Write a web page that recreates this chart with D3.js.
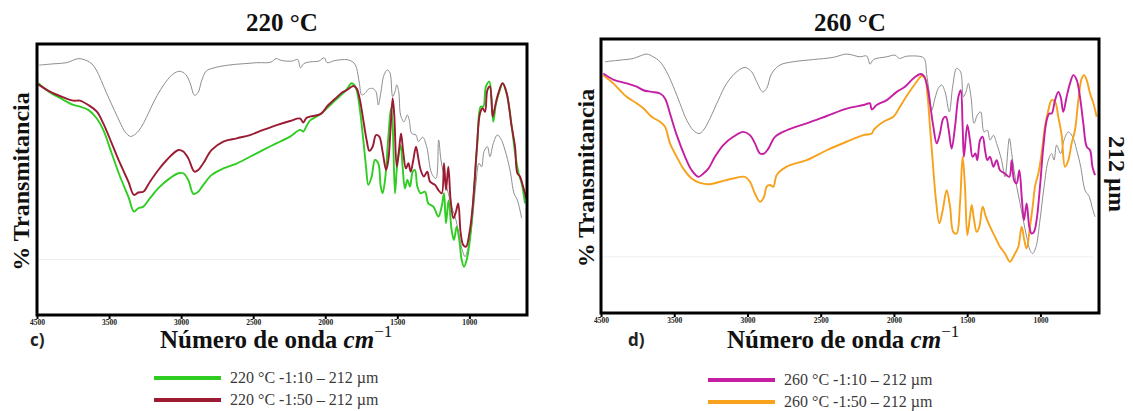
<!DOCTYPE html>
<html>
<head>
<meta charset="utf-8">
<script src="https://cdn.jsdelivr.net/npm/d3@7/dist/d3.min.js"></script>
<style>
  body { margin: 0; background: #fff; }
  svg { display: block; }
</style>
</head>
<body>
<svg id="chart" width="1133" height="411"></svg>
<script>
// DATA ////////////////////////////////////////////////////////////////////////
// [wavenumber cm-1, transmittance (arbitrary 0-100, no y ticks in the figure)]

// axis ticks (the first tick is labelled 4500 in the original figure)
const tickValues = [4000, 3500, 3000, 2500, 2000, 1500, 1000];
const tickLabels = ["4500", "3500", "3000", "2500", "2000", "1500", "1000"];

const grey220 = [
  [3985,92.2],[3882,92.7],[3795,93.1],[3709,94.6],[3635,93.3],[3605,91.8],[3573,88.8],[3536,84.2],
  [3499,79.7],[3462,75.4],[3425,71.2],[3388,67.5],[3351,65.9],[3314,66.9],[3277,69.3],[3240,73.0],
  [3191,78.5],[3141,83.3],[3092,87.0],[3043,89.4],[3006,89.9],[2969,88.8],[2939,85.8],[2907,81.1],
  [2882,82.1],[2858,86.4],[2826,90.0],[2771,91.2],[2673,92.2],[2574,92.7],[2475,93.1],[2377,93.3],
  [2340,94.6],[2303,93.9],[2229,93.7],[2192,94.3],[2172,91.2],[2150,92.7],[2105,93.4],[2044,93.7],
  [2007,94.9],[1987,93.1],[1933,93.9],[1846,94.2],[1809,93.4],[1794,92.5],[1782,91.0],[1763,85.5],
  [1747,81.2],[1724,81.8],[1701,83.3],[1671,83.6],[1648,82.4],[1632,77.5],[1615,81.8],[1592,88.6],
  [1569,90.4],[1551,89.4],[1532,80.6],[1516,82.4],[1504,84.9],[1490,82.4],[1477,73.8],[1454,71.3],
  [1430,73.8],[1417,71.9],[1400,67.0],[1370,66.4],[1354,64.0],[1324,65.6],[1296,62.1],[1262,52.3],
  [1232,50.4],[1213,64.6],[1197,57.2],[1169,49.8],[1146,44.9],[1123,40.0],[1093,35.1],[1065,27.7],
  [1046,23.4],[1030,21.5],[1007,25.2],[984,32.6],[954,48.6],[933,56.0],[915,54.7],[898,60.3],
  [875,62.1],[857,58.4],[834,63.3],[806,66.4],[783,65.2],[753,60.9],[718,53.5],[690,44.9],
  [667,42.4],[637,35.7]
];

const green220 = [
  [3991,85.5],[3910,82.1],[3817,79.4],[3748,77.5],[3702,76.9],[3644,75.7],[3586,72.6],[3540,68.3],
  [3482,59.7],[3424,51.1],[3366,43.7],[3327,38.2],[3297,39.4],[3262,40.0],[3216,43.1],[3158,46.8],
  [3077,50.5],[3019,52.3],[2985,52.3],[2950,49.8],[2915,44.7],[2881,45.5],[2846,48.0],[2788,51.7],
  [2707,54.1],[2615,55.9],[2522,58.4],[2430,60.9],[2337,63.4],[2244,65.8],[2175,68.3],[2152,67.7],
  [2129,69.8],[2105,71.8],[2031,74.2],[1982,76.6],[1933,79.1],[1883,81.5],[1851,83.3],[1817,85.5],
  [1800,84.9],[1782,83.0],[1759,75.6],[1736,64.6],[1717,54.7],[1701,48.0],[1678,51.0],[1655,57.2],
  [1632,56.0],[1615,47.4],[1602,44.9],[1585,49.8],[1562,65.8],[1544,76.3],[1532,69.5],[1516,44.9],
  [1504,53.5],[1493,58.4],[1477,62.7],[1463,54.7],[1447,46.7],[1430,49.8],[1412,47.4],[1393,52.9],
  [1377,53.5],[1361,47.4],[1338,44.9],[1308,45.5],[1285,41.2],[1250,40.0],[1215,36.3],[1192,40.0],
  [1176,44.9],[1162,33.8],[1144,42.4],[1123,31.4],[1107,27.7],[1088,32.6],[1070,27.7],[1053,20.3],
  [1037,17.8],[1019,20.3],[996,27.7],[972,42.4],[945,63.3],[921,76.9],[903,76.9],[885,84.3],
  [861,86.1],[848,80.6],[834,71.3],[815,78.1],[792,82.4],[769,85.5],[741,81.8],[706,69.5],
  [676,57.2],[658,52.3],[637,48.6],[614,41.2]
];

const red220 = [
  [3991,85.1],[3910,82.4],[3817,80.3],[3748,79.1],[3702,79.1],[3644,77.5],[3586,75.1],[3540,70.7],
  [3482,63.4],[3424,56.0],[3366,49.2],[3327,44.3],[3297,45.2],[3262,45.5],[3216,49.2],[3158,53.5],
  [3100,57.2],[3019,60.9],[2985,60.3],[2950,57.8],[2908,52.9],[2881,53.5],[2846,56.0],[2788,60.9],
  [2707,64.0],[2615,65.2],[2522,66.4],[2430,68.3],[2337,70.1],[2244,71.6],[2175,72.5],[2152,71.0],
  [2129,72.8],[2031,74.2],[1982,77.3],[1933,79.7],[1883,82.1],[1851,83.0],[1805,84.5],[1782,83.6],
  [1759,79.3],[1736,72.0],[1713,64.6],[1694,60.6],[1671,62.1],[1648,66.4],[1625,65.8],[1602,60.3],
  [1578,53.5],[1562,57.2],[1546,69.5],[1532,80.0],[1521,73.8],[1504,54.7],[1488,60.9],[1474,67.0],
  [1458,59.7],[1440,54.1],[1423,56.0],[1407,52.9],[1389,57.2],[1370,62.1],[1354,57.8],[1338,53.5],
  [1315,51.1],[1292,52.9],[1273,49.2],[1238,48.0],[1215,46.1],[1192,44.9],[1176,56.0],[1162,46.1],
  [1146,54.7],[1130,42.4],[1111,35.7],[1093,38.1],[1077,41.2],[1060,30.1],[1042,25.8],[1023,25.2],
  [1000,30.1],[977,40.0],[949,60.9],[926,74.4],[908,76.3],[891,75.0],[875,83.0],[857,84.3],
  [838,73.2],[822,76.9],[799,81.8],[769,85.5],[741,81.8],[706,69.5],[683,62.1],[667,52.3],
  [649,51.1],[630,48.0],[602,42.4]
];

const grey260 = [
  [3973,91.7],[3870,92.3],[3779,92.9],[3734,93.8],[3688,94.5],[3643,93.5],[3597,91.7],[3552,88.0],
  [3506,82.6],[3461,76.5],[3415,70.4],[3370,66.7],[3331,65.5],[3301,66.7],[3256,71.0],[3199,77.7],
  [3142,83.8],[3074,88.0],[3017,89.6],[2971,88.0],[2937,84.4],[2896,80.7],[2869,82.0],[2835,87.4],
  [2778,90.5],[2687,91.7],[2550,92.5],[2414,93.3],[2323,94.5],[2232,93.5],[2186,93.8],[2163,90.8],
  [2140,92.5],[2049,93.5],[1992,94.1],[1963,92.9],[1916,93.7],[1806,93.4],[1788,92.3],[1777,87.4],
  [1758,80.1],[1742,74.0],[1720,78.3],[1697,82.0],[1674,83.2],[1651,80.7],[1622,73.4],[1599,82.6],
  [1572,89.3],[1545,88.0],[1526,78.9],[1508,80.7],[1492,83.8],[1474,78.9],[1453,69.2],[1431,72.2],
  [1408,73.4],[1385,66.1],[1362,66.7],[1344,63.1],[1321,64.9],[1299,61.9],[1265,55.8],[1242,49.7],
  [1212,63.7],[1196,58.2],[1180,52.1],[1162,46.1],[1139,40.0],[1117,33.9],[1094,27.8],[1071,22.9],
  [1053,21.7],[1030,24.2],[1003,33.9],[975,46.1],[946,55.8],[923,58.2],[907,55.8],[889,61.3],
  [862,58.2],[839,63.1],[809,66.1],[780,64.3],[752,59.4],[725,53.4],[695,44.8],[666,42.4],
  [648,38.8],[627,35.1]
];

const magenta260 = [
  [3984,87.4],[3916,85.2],[3825,83.8],[3756,82.6],[3711,81.3],[3654,80.7],[3597,80.1],[3563,78.3],
  [3529,72.8],[3483,64.9],[3426,57.0],[3381,52.1],[3335,49.7],[3301,50.9],[3267,52.7],[3222,57.0],
  [3165,61.3],[3097,64.3],[3028,66.1],[2983,64.9],[2949,61.9],[2914,58.2],[2887,58.2],[2857,60.0],
  [2812,64.3],[2732,66.7],[2596,69.2],[2459,71.9],[2323,74.6],[2209,75.9],[2164,76.5],[2152,74.3],
  [2118,75.9],[2049,77.7],[1981,80.7],[1925,82.6],[1868,85.6],[1818,87.2],[1795,86.5],[1772,82.6],
  [1754,76.5],[1731,68.0],[1708,61.9],[1686,65.5],[1663,71.0],[1645,71.6],[1626,66.7],[1606,60.0],
  [1583,68.0],[1560,78.9],[1544,81.3],[1531,68.0],[1522,57.0],[1499,68.6],[1481,63.1],[1463,57.0],
  [1444,58.2],[1431,55.8],[1412,63.1],[1394,64.3],[1378,59.4],[1362,55.8],[1344,57.0],[1321,53.4],
  [1299,55.8],[1276,52.1],[1242,50.9],[1212,49.7],[1196,55.8],[1180,48.5],[1162,47.3],[1144,52.1],
  [1126,41.2],[1112,33.9],[1094,40.0],[1076,31.5],[1060,29.0],[1044,29.6],[1026,33.9],[1003,46.1],
  [980,60.7],[957,70.4],[939,72.8],[923,72.8],[900,77.7],[878,80.7],[862,78.9],[844,73.4],
  [821,78.9],[798,83.8],[775,86.8],[752,85.0],[730,78.9],[707,69.2],[684,60.7],[661,59.4],
  [645,53.4],[627,50.3]
];

const orange260 = [
  [3984,86.8],[3916,83.8],[3825,78.9],[3756,76.5],[3711,74.7],[3654,71.6],[3597,69.8],[3563,68.0],
  [3529,61.9],[3483,57.0],[3438,52.7],[3381,49.1],[3324,47.5],[3256,47.0],[3188,47.9],[3097,49.1],
  [3017,49.7],[2983,47.9],[2949,43.6],[2914,40.6],[2887,42.4],[2869,46.1],[2846,46.7],[2823,46.1],
  [2801,50.3],[2732,53.4],[2596,55.8],[2459,59.4],[2323,62.5],[2209,64.9],[2152,65.5],[2136,67.0],
  [2072,69.8],[2004,71.6],[1959,75.3],[1902,80.1],[1845,84.4],[1811,86.5],[1788,85.6],[1772,80.1],
  [1754,68.0],[1736,55.8],[1713,41.2],[1690,32.7],[1667,37.5],[1640,44.8],[1617,38.8],[1595,29.6],
  [1572,29.0],[1549,40.0],[1531,57.0],[1515,46.1],[1499,28.4],[1481,35.1],[1469,39.4],[1453,33.9],
  [1435,29.6],[1417,31.5],[1394,38.8],[1372,35.1],[1344,31.5],[1310,27.8],[1276,24.2],[1242,21.7],
  [1208,18.7],[1180,21.1],[1151,24.2],[1128,31.5],[1110,26.6],[1094,23.5],[1071,31.5],[1053,38.8],
  [1035,46.7],[1014,50.9],[992,58.2],[969,68.0],[946,74.0],[923,77.7],[900,77.1],[878,71.6],
  [855,64.9],[832,53.4],[809,55.8],[787,61.9],[764,66.7],[741,77.7],[718,85.6],[702,86.8],
  [684,85.0],[661,80.1],[638,76.5],[616,71.6]
];

// series names
const legend220 = ["220 °C -1:10 – 212 µm", "220 °C -1:50 – 212 µm"];
const legend260 = ["260 °C -1:10 – 212 µm", "260 °C -1:50 – 212 µm"];


// PANELS //////////////////////////////////////////////////////////////////////

const serif = "'Liberation Serif', 'Times New Roman', serif";
const svg = d3.select("#chart");

const panels = [
  {
    id: "p220", title: "220 °C", letter: "c)",
    x0: 37, x1: 527, y0: 44, y1: 315,
    grey: grey220,
    lines: [{ data: green220, color: "#2fcc22" }, { data: red220, color: "#9a1b32" }],
    legend: [{ text: legend220[0], color: "#2fcc22", y: 378 }, { text: legend220[1], color: "#9a1b32", y: 400 }],
    legendX: 154, letterX: 30, labelX: 160, ylabX: 29
  },
  {
    id: "p260", title: "260 °C", letter: "d)",
    x0: 601, x1: 1099, y0: 39, y1: 313,
    grey: grey260,
    lines: [{ data: orange260, color: "#f7a11c" }, { data: magenta260, color: "#c51ea3" }],
    legend: [{ text: legend260[0], color: "#c51ea3", y: 380 }, { text: legend260[1], color: "#f7a11c", y: 402 }],
    legendX: 708, letterX: 628, labelX: 727, ylabX: 594
  }
];

panels.forEach(p => {
  const x = d3.scaleLinear().domain([4000, 600]).range([p.x0, p.x1]);
  const y = d3.scaleLinear().domain([0, 100]).range([p.y1, p.y0]);

  const line = d3.line()
    .x(d => x(d[0]))
    .y(d => y(d[1]))
    .curve(d3.curveCatmullRom.alpha(0.5));

  svg.append("clipPath").attr("id", "clip-" + p.id)
    .append("rect")
    .attr("x", p.x0).attr("y", p.y0)
    .attr("width", p.x1 - p.x0).attr("height", p.y1 - p.y0);

  const g = svg.append("g").attr("clip-path", "url(#clip-" + p.id + ")");

  // faint baseline that shows in the original scan
  g.append("line")
    .attr("x1", x(4000)).attr("x2", x(640))
    .attr("y1", y(20.5)).attr("y2", y(20.5))
    .attr("stroke", "#efefef").attr("stroke-width", 1);

  // reference (grey) spectrum
  g.append("path")
    .datum(p.grey)
    .attr("d", line)
    .attr("fill", "none")
    .attr("stroke", "#8e8e8e")
    .attr("stroke-width", 1);

  p.lines.forEach(s => {
    g.append("path")
      .datum(s.data)
      .attr("d", line)
      .attr("fill", "none")
      .attr("stroke", s.color)
      .attr("stroke-width", 1.9)
      .attr("stroke-linejoin", "round");
  });

  // frame
  svg.append("rect")
    .attr("x", p.x0).attr("y", p.y0)
    .attr("width", p.x1 - p.x0).attr("height", p.y1 - p.y0)
    .attr("fill", "none")
    .attr("stroke", "#000")
    .attr("stroke-width", 3);

  // x axis ticks
  const axis = d3.axisBottom(x)
    .tickValues(tickValues)
    .tickFormat((d, i) => tickLabels[i])
    .tickSize(3)
    .tickPadding(1);

  const ax = svg.append("g")
    .attr("transform", "translate(0," + (p.y1 + 1) + ")")
    .call(axis);
  ax.select(".domain").remove();
  ax.selectAll(".tick line").attr("stroke", "#000").attr("stroke-width", 2);
  ax.selectAll(".tick text")
    .attr("font-family", serif)
    .attr("font-weight", "bold")
    .attr("font-size", "7.5px")
    .attr("fill", "#222");

  // title
  svg.append("text")
    .attr("x", (p.x0 + p.x1) / 2)
    .attr("y", 31)
    .attr("text-anchor", "middle")
    .attr("font-family", serif)
    .attr("font-weight", "bold")
    .attr("font-size", "25px")
    .attr("fill", "#111")
    .text(p.title);

  // y label
  svg.append("text")
    .attr("transform", "translate(" + p.ylabX + "," + ((p.y0 + p.y1) / 2 + 2) + ") rotate(-90)")
    .attr("text-anchor", "middle")
    .attr("font-family", serif)
    .attr("font-weight", "bold")
    .attr("font-size", "24px")
    .attr("fill", "#111")
    .text("% Transmitancia");

  // x label
  const xl = svg.append("text")
    .attr("x", p.labelX)
    .attr("y", 348)
    .attr("font-family", serif)
    .attr("font-weight", "bold")
    .attr("font-size", "25px")
    .attr("fill", "#111");
  xl.append("tspan").text("Número de onda ");
  xl.append("tspan").attr("font-style", "italic").text("cm");
  xl.append("tspan").attr("dy", -11).attr("font-size", "17px").attr("font-weight", "normal").text("−1");

  // panel letter
  svg.append("text")
    .attr("x", p.letterX)
    .attr("y", 346)
    .attr("font-family", "'Open Sans', 'Liberation Sans', sans-serif")
    .attr("font-weight", "bold")
    .attr("font-size", "17px")
    .attr("fill", "#222")
    .text(p.letter);

  // legend
  p.legend.forEach(l => {
    svg.append("line")
      .attr("x1", p.legendX).attr("x2", p.legendX + 67)
      .attr("y1", l.y).attr("y2", l.y)
      .attr("stroke", l.color)
      .attr("stroke-width", 4);
    svg.append("text")
      .attr("x", p.legendX + 76)
      .attr("y", l.y + 5)
      .attr("font-family", serif)
      .attr("font-size", "16px")
      .attr("fill", "#3a3a3a")
      .text(l.text);
  });
});

// side label
svg.append("text")
  .attr("transform", "translate(1109,174) rotate(90)")
  .attr("text-anchor", "middle")
  .attr("font-family", serif)
  .attr("font-weight", "bold")
  .attr("font-size", "24px")
  .attr("fill", "#111")
  .text("212 µm");
</script>
</body>
</html>
